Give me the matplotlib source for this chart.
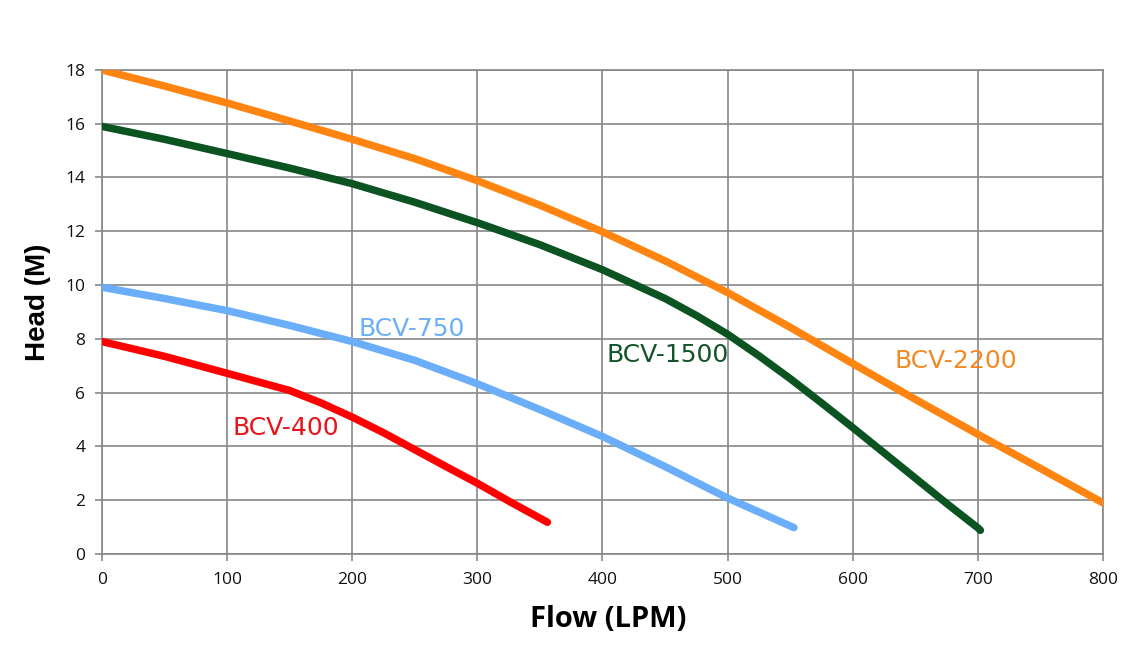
import matplotlib
matplotlib.use("Agg")
import matplotlib.pyplot as plt

# Data
flow_2200 = [0, 50, 100, 150, 200, 250, 300, 350, 400, 450, 500, 550, 600, 650, 700, 750, 800]
head_2200 = [18.0, 17.4, 16.77, 16.1, 15.42, 14.7, 13.88, 12.97, 11.98, 10.9, 9.72, 8.43, 7.08, 5.75, 4.45, 3.18, 1.9]

flow_1500 = [0, 50, 100, 150, 200, 250, 300, 350, 400, 450, 475, 500, 525, 550, 575, 600, 625, 650, 675, 700, 702]
head_1500 = [15.9, 15.42, 14.89, 14.35, 13.77, 13.08, 12.32, 11.5, 10.57, 9.5, 8.87, 8.17, 7.37, 6.52, 5.62, 4.7, 3.76, 2.82, 1.88, 0.97, 0.88]

flow_750 = [0, 50, 100, 150, 200, 250, 300, 350, 400, 450, 500, 553]
head_750 = [9.92, 9.5, 9.05, 8.5, 7.9, 7.2, 6.33, 5.37, 4.37, 3.25, 2.08, 0.98]

flow_400 = [0, 50, 100, 150, 175, 200, 225, 250, 275, 300, 325, 356]
head_400 = [7.9, 7.35, 6.72, 6.08, 5.62, 5.09, 4.51, 3.88, 3.25, 2.63, 1.97, 1.18]

series_names = ["BCV-2200", "BCV-1500", "BCV-750", "BCV-400"]
label_pos = [(633, 6.91), (403, 7.15), (205, 8.09), (104, 4.43)]

x_ticks = [0, 100, 200, 300, 400, 500, 600, 700, 800]
y_ticks = [0, 2, 4, 6, 8, 10, 12, 14, 16, 18]

line_colors = ["#FF8410", "#0C5322", "#6AAEFA", "#FF0000"]
text_colors = ["#F28A25", "#13532A", "#6CAFF5", "#E8141C"]

fig = plt.figure(figsize=(11.34, 6.51), dpi=100)
ax = fig.add_axes([0.0899, 0.149, 0.8828, 0.7436])

data = [(flow_2200, head_2200), (flow_1500, head_1500), (flow_750, head_750), (flow_400, head_400)]
for (fx, hy), c in zip(data, line_colors):
    ax.plot(fx, hy, color=c, lw=5.4, solid_capstyle="round", solid_joinstyle="round", zorder=3)

for name, (lx, ly), tc in zip(series_names, label_pos, text_colors):
    ax.text(lx, ly, name, color=tc, fontsize=18, family="DejaVu Sans",
            ha="left", va="baseline", zorder=4)

ax.set_xlim(0, 800)
ax.set_ylim(0, 18)
ax.set_xticks(x_ticks)
ax.set_yticks(y_ticks)
ax.set_xticklabels([str(v) for v in x_ticks], family="Open Sans", fontsize=12.5)
ax.set_yticklabels([str(v) for v in y_ticks], family="Open Sans", fontsize=12.5)
ax.grid(True, color="#878787", lw=1.2, zorder=1)
ax.set_axisbelow(True)
for s in ax.spines.values():
    s.set_color("#878787")
    s.set_linewidth(1.2)
ax.tick_params(axis="both", direction="out", length=5, width=1.2, color="#878787",
               labelcolor="#111111")
ax.tick_params(axis="y", pad=7)
ax.tick_params(axis="x", pad=8)

ax.set_xlabel("Flow (LPM)", family="Open Sans", fontweight="bold", fontsize=21, labelpad=12)
ax.xaxis.label.set_x(0.506)
ax.set_ylabel("Head (M)", family="Liberation Sans", fontweight="bold", fontsize=20, labelpad=10)
ax.yaxis.label.set_y(0.52)

fig.savefig("out.png", dpi=100, facecolor="white")
